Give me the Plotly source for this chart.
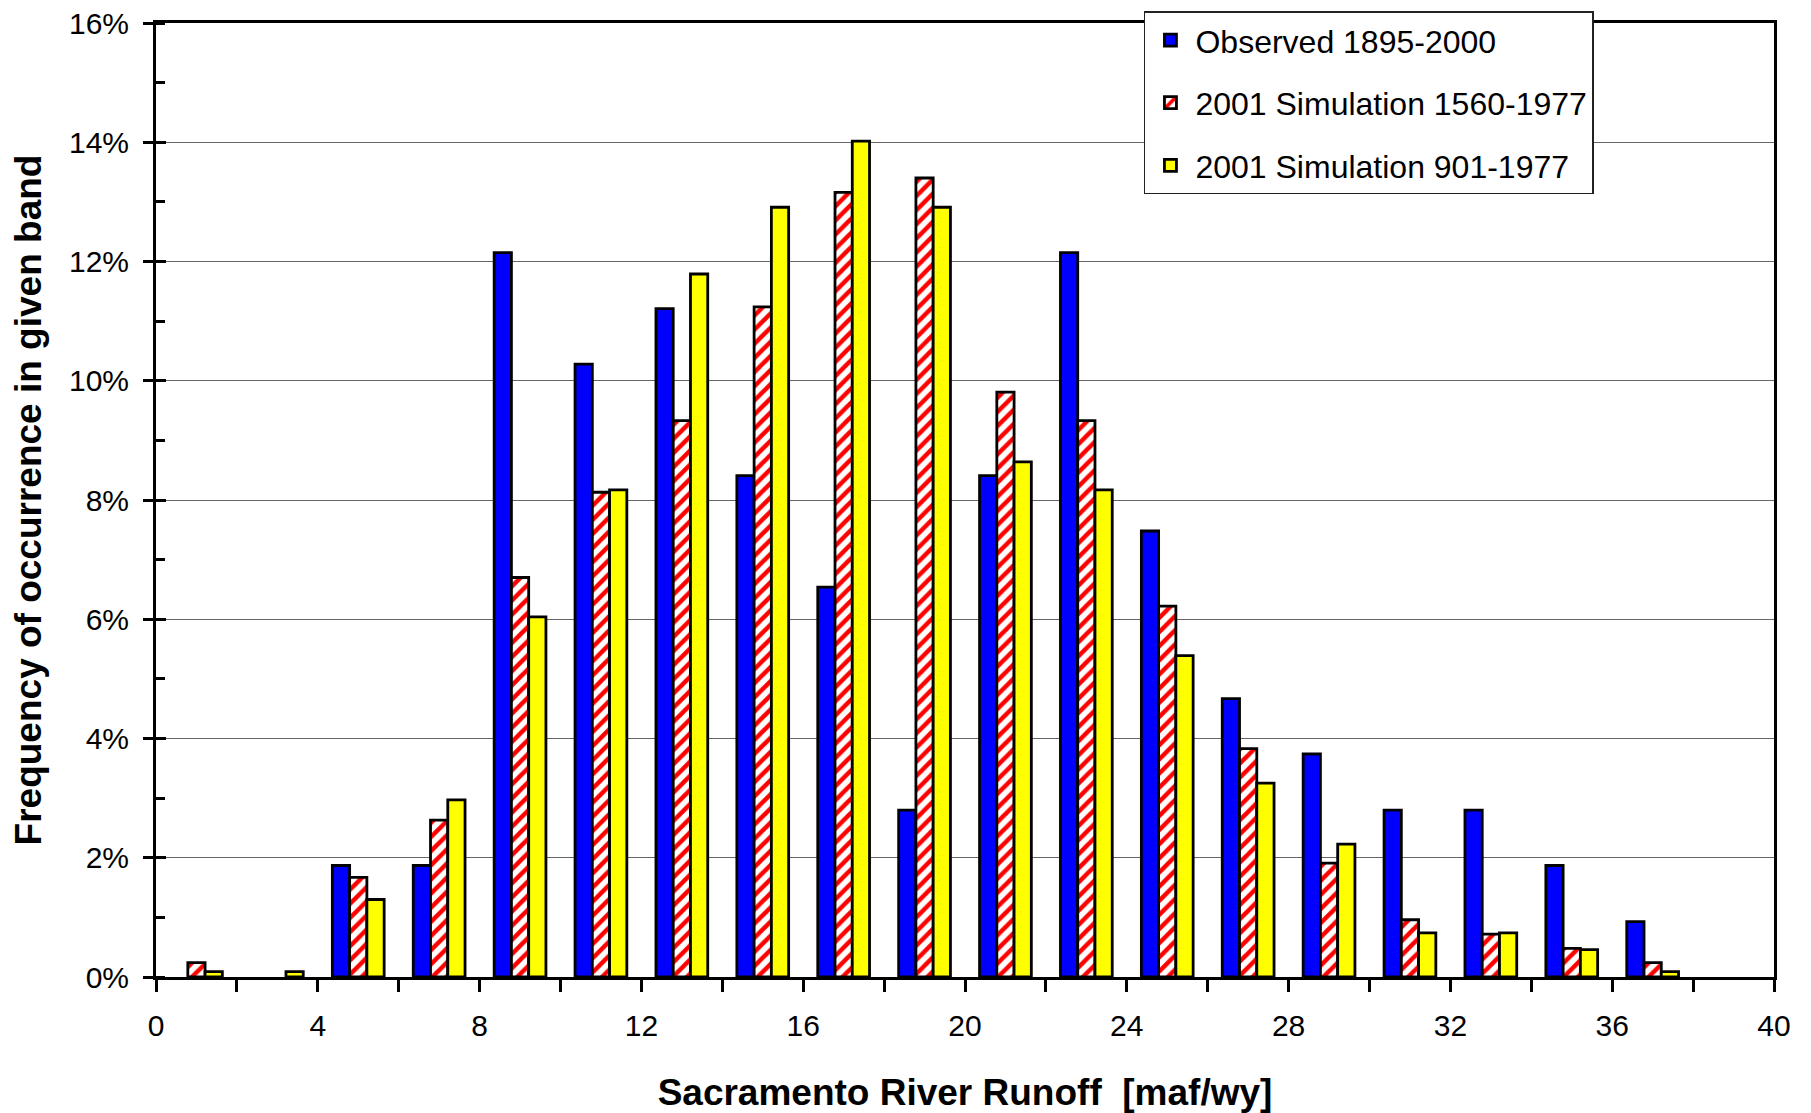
import plotly.graph_objects as go

# bin centres (maf/wy), 2-unit bands
bins = [1, 3, 5, 7, 9, 11, 13, 15, 17, 19, 21, 23, 25, 27, 29, 31, 33, 35, 37, 39]

# frequency in % (None = empty band)
observed = [None, None, 1.87, 1.87, 12.15, 10.28, 11.21, 8.41, 6.54, 2.80,
            8.41, 12.15, 7.48, 4.67, 3.74, 2.80, 2.80, 1.87, 0.93, None]
sim_1560 = [0.24, None, 1.67, 2.63, 6.70, 8.13, 9.33, 11.24, 13.16, 13.40,
            9.81, 9.33, 6.22, 3.83, 1.91, 0.96, 0.72, 0.48, 0.24, None]
sim_901 = [0.09, 0.09, 1.30, 2.97, 6.04, 8.17, 11.79, 12.91, 14.02, 12.91,
           8.64, 8.17, 5.39, 3.25, 2.23, 0.74, 0.74, 0.46, 0.09, None]

names = ['Observed 1895-2000', '2001 Simulation 1560-1977', '2001 Simulation 901-1977']

FONT = 'Arial, Liberation Sans, sans-serif'
outline = dict(color='black', width=2.8)

fig = go.Figure()
fig.add_trace(go.Bar(x=bins, y=observed, name=names[0], legendgroup='a',
                     marker=dict(color='#0000FF', line=outline)))
fig.add_trace(go.Bar(x=bins, y=sim_1560, name=names[1], legendgroup='b',
                     marker=dict(color='white', line=outline,
                                 pattern=dict(shape='/', fgcolor='#FF0000', bgcolor='white',
                                              size=10, solidity=0.45, fillmode='replace'))))
fig.add_trace(go.Bar(x=bins, y=sim_901, name=names[2], legendgroup='c',
                     marker=dict(color='#FFFF00', line=outline)))
# dummy trace so the overlay axis (inside half of the y ticks) is drawn
fig.add_trace(go.Scatter(x=[None], y=[None], yaxis='y2', showlegend=False, hoverinfo='skip'))

# page body has an 8px margin, so the figure is sized to fit inside the window
fig.update_layout(
    width=1803, height=1105,
    barmode='group', bargap=0.36, bargroupgap=0,
    plot_bgcolor='white', paper_bgcolor='white',
    font=dict(family=FONT, size=30, color='black'),
    margin=dict(l=148, r=37, t=15, b=136, autoexpand=False),
    legend=dict(x=0.6106, y=0.997, xref='paper', yref='container',
                xanchor='left', yanchor='top',
                bgcolor='white', bordercolor='#222', borderwidth=1.5,
                font=dict(size=32), tracegroupgap=18, traceorder='grouped',
                itemwidth=40),
    showlegend=True,
)

fig.update_xaxes(
    range=[0, 40], tick0=0, dtick=4, automargin=False, ticklabeloverflow='allow',
    showline=True, linecolor='black', linewidth=3, mirror=True,
    ticks='outside', ticklen=12, tickwidth=2.5, tickcolor='black', ticklabelstandoff=8,
    minor=dict(dtick=2, ticks='outside', ticklen=12, tickwidth=2.5, tickcolor='black'),
    showgrid=False, zeroline=False,
    title=dict(text='<b>Sacramento River Runoff  [maf/wy]</b>', font=dict(size=37), standoff=42),
)

fig.update_yaxes(
    range=[0, 16], tick0=0, dtick=2, ticksuffix='%', automargin=False, ticklabeloverflow='allow',
    showline=True, linecolor='black', linewidth=3, mirror=True,
    ticks='outside', ticklen=10, tickwidth=2.5, tickcolor='black', ticklabelstandoff=8,
    minor=dict(dtick=1, ticks='inside', ticklen=9, tickwidth=2.5, tickcolor='black'),
    showgrid=True, gridcolor='#666', gridwidth=1, zeroline=False,
    title=dict(text='<b>Frequency of occurrence in given band</b>', font=dict(size=37), standoff=17),
)

fig.update_layout(yaxis2=dict(
    overlaying='y', anchor='x', side='left', range=[0, 16], tick0=0, dtick=2,
    ticks='inside', ticklen=10, tickwidth=2.5, tickcolor='black',
    showticklabels=False, showgrid=False, showline=False, zeroline=False,
))

fig.write_html("out.html")
